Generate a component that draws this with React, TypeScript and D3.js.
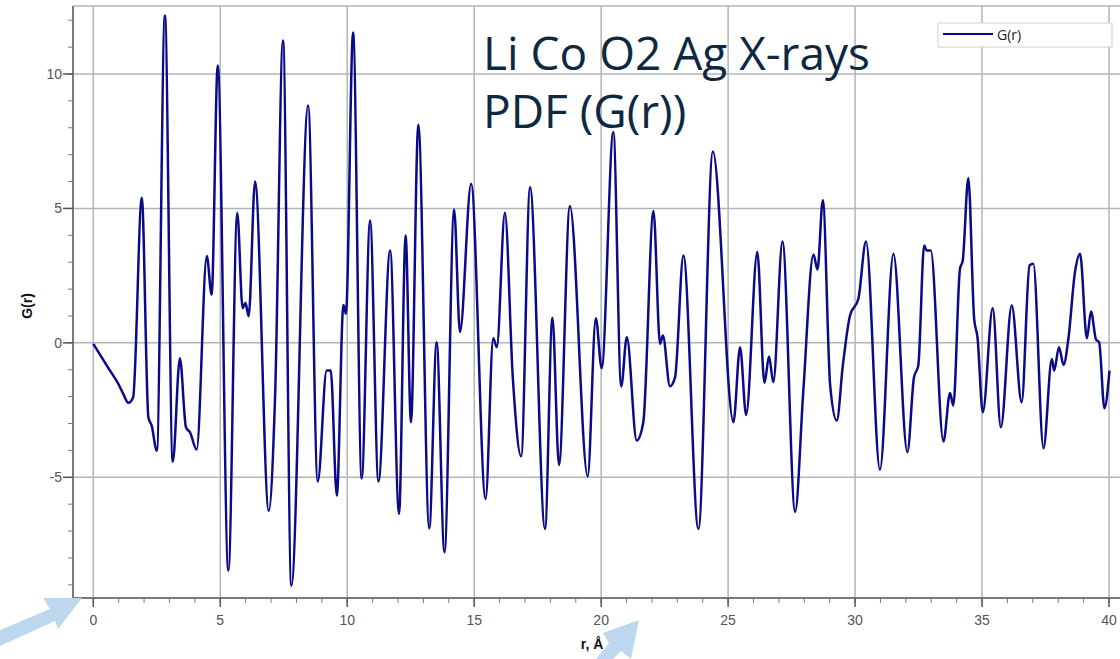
import React from "react";
import * as d3 from "d3";

const rValues = [
  0, 0.6, 1.0, 1.18, 1.38, 1.57, 1.91, 2.17, 2.3, 2.5, 2.82, 3.13, 3.41, 3.65, 3.81, 4.07,
  4.47, 4.66, 4.9, 5.32, 5.67, 5.88, 5.99, 6.12, 6.37, 6.91, 7.16, 7.47, 7.8, 8.46, 8.84,
  9.19, 9.35, 9.59, 9.85, 9.95, 10.23, 10.57, 10.9, 11.23, 11.69, 12.04, 12.3, 12.51, 12.8,
  13.23, 13.52, 13.83, 14.21, 14.44, 14.88, 15.45, 15.75, 15.89, 16.21, 16.52, 16.85, 17.2,
  17.79, 18.08, 18.34, 18.77, 19.47, 19.79, 20.02, 20.48, 20.79, 21.01, 21.4, 21.66, 22.06,
  22.32, 22.43, 22.71, 22.91, 23.24, 23.83, 24.4, 25.21, 25.47, 25.71, 26.15, 26.43, 26.61,
  26.78, 27.14, 27.64, 27.96, 28.36, 28.52, 28.73, 29.02, 29.28, 29.52, 29.8, 30.13, 30.43,
  30.98, 31.51, 32.06, 32.32, 32.49, 32.72, 32.82, 32.98, 33.48, 33.74, 33.87, 34.13, 34.24,
  34.46, 34.69, 34.82, 35.03, 35.42, 35.74, 36.17, 36.56, 36.87, 37.02, 37.42, 37.75, 37.84,
  38.03, 38.21, 38.4, 38.66, 38.86, 39.13, 39.29, 39.49, 39.61, 39.82, 40.02,
];

const gValues = [
  -0.04, -0.95, -1.55, -1.9, -2.23, -2.02, 5.4, -2.77, -3.08, -4.01, 12.18, -4.42, -0.57,
  -3.14, -3.33, -3.97, 3.23, 1.79, 10.32, -8.47, 4.83, 1.29, 1.49, 0.99, 6.0, -6.24, -1.96,
  11.25, -9.03, 8.83, -5.16, -1.03, -1.03, -5.68, 1.41, 1.08, 11.54, -5.04, 4.55, -5.16, 3.44,
  -6.36, 3.99, -2.95, 8.11, -6.9, 0.02, -7.79, 4.96, 0.4, 5.92, -5.81, 0.17, -0.16, 4.84,
  -1.28, -4.22, 5.79, -6.92, 0.93, -4.54, 5.09, -4.97, 0.92, -0.94, 7.84, -1.62, 0.21, -3.63,
  -2.95, 4.9, -0.04, 0.27, -1.61, -1.28, 3.25, -6.92, 7.12, -2.95, -0.16, -2.68, 3.38, -1.49,
  -0.51, -1.46, 3.77, -6.28, -1.81, 3.29, 2.73, 5.3, -1.59, -2.89, -0.82, 1.02, 1.64, 3.77,
  -4.72, 3.31, -4.07, -1.28, -0.84, 3.62, 3.44, 3.44, -3.67, -1.86, -2.33, 2.75, 3.06, 6.13,
  0.89, 0.21, -2.58, 1.29, -3.14, 1.39, -2.21, 2.88, 2.94, -3.92, -0.6, -1.03, -0.16, -0.82,
  0.15, 2.63, 3.31, 0.17, 1.17, 0.12, 0.03, -2.43, -1.03,
];

const xMajorTicks = [0, 5, 10, 15, 20, 25, 30, 35, 40];
const xMinorTicks = d3.range(0, 41, 1);
const yMajorTicks = [-5, 0, 5, 10];
const yMinorTicks = d3.range(-9, 13, 1);

const titleLines = ["Li Co O2 Ag X-rays", "PDF (G(r))"];
const seriesName = "G(r)";
const xLabel = "r, Å";
const yLabel = "G(r)";

export default function App() {
  const W = 1120;
  const H = 659;
  const left = 73;
  const top = 6;
  const bottom = 598;
  const right = 1120;

  const x = d3.scaleLinear().domain([0, 40]).range([93.3, 1109]);
  const y = d3.scaleLinear().domain([-5, 10]).range([477.3, 74]);

  const data = rValues.map((r, i) => ({ r, g: gValues[i] }));
  const line = d3
    .line<{ r: number; g: number }>()
    .x((d) => x(d.r))
    .y((d) => y(d.g))
    .curve(d3.curveMonotoneX);

  const gridColor = "#b4b4b4";
  const axisColor = "#7a7a7a";
  const navy = "#0a0a8a";

  return (
    <svg
      width={W}
      height={H}
      style={{ position: "absolute", left: 0, top: 0, background: "#fff" }}
      fontFamily="'Liberation Sans', Arial, sans-serif"
    >
      <rect x={0} y={0} width={W} height={H} fill="#fff" />
      {xMajorTicks.map((t) => (
        <line key={"gx" + t} x1={x(t)} x2={x(t)} y1={top} y2={bottom} stroke={gridColor} strokeWidth={1.5} />
      ))}
      {yMajorTicks.map((t) => (
        <line key={"gy" + t} x1={left} x2={right} y1={y(t)} y2={y(t)} stroke={gridColor} strokeWidth={1.5} />
      ))}
      <line x1={left} x2={right} y1={top} y2={top} stroke={gridColor} strokeWidth={1.5} />

      <line x1={left} x2={left} y1={top} y2={bottom} stroke={axisColor} strokeWidth={2} />
      <line x1={left} x2={right} y1={bottom} y2={bottom} stroke={axisColor} strokeWidth={2} />

      {xMinorTicks.map((t) => (
        <line key={"xm" + t} x1={x(t)} x2={x(t)} y1={bottom} y2={bottom + 5} stroke={axisColor} strokeWidth={1} />
      ))}
      {xMajorTicks.map((t) => (
        <g key={"xt" + t}>
          <line x1={x(t)} x2={x(t)} y1={bottom} y2={bottom + 9} stroke="#555" strokeWidth={1.5} />
          <text x={x(t)} y={625} textAnchor="middle" fontSize={14} fill="#555">
            {t}
          </text>
        </g>
      ))}
      {yMinorTicks.map((t) => (
        <line key={"ym" + t} x1={left - 5} x2={left} y1={y(t)} y2={y(t)} stroke={axisColor} strokeWidth={1} />
      ))}
      {yMajorTicks.map((t) => (
        <g key={"yt" + t}>
          <line x1={left - 10} x2={left} y1={y(t)} y2={y(t)} stroke="#555" strokeWidth={1.5} />
          <text x={left - 11} y={y(t) + 5} textAnchor="end" fontSize={14} fill="#555">
            {t}
          </text>
        </g>
      ))}

      <text x={592} y={649} textAnchor="middle" fontSize={14} fontWeight="bold" fill="#111">
        {xLabel}
      </text>
      <text
        transform="translate(32,306) rotate(-90)"
        textAnchor="middle"
        fontSize={14}
        fontWeight="bold"
        fill="#111"
      >
        {yLabel}
      </text>

      <path d={line(data) || ""} fill="none" stroke={navy} strokeWidth={2.5} strokeLinejoin="round" />

      {titleLines.map((t, i) => (
        <text
          key={t}
          x={483}
          y={70 + i * 58}
          fontSize={46}
          fontFamily="'Open Sans', 'Noto Sans', sans-serif"
          fill="#0e2841"
        >
          {t}
        </text>
      ))}

      <rect x={938} y={23} width={174} height={24} fill="#fff" stroke="#cfcfcf" strokeWidth={1} />
      <line x1={943} x2={993} y1={34} y2={34} stroke={navy} strokeWidth={2} />
      <text x={997} y={40} fontSize={14} fill="#222" fontFamily="'Open Sans', 'Noto Sans', sans-serif">
        {seriesName}
      </text>

      <polygon points="0,630 50,609 43,598 82,598 58,629 55,621 0,646" fill="#bdd7ee" />
      <polygon points="639,620 631,659 621,651 613,659 596,659 609,643 603,633" fill="#bdd7ee" />
    </svg>
  );
}
